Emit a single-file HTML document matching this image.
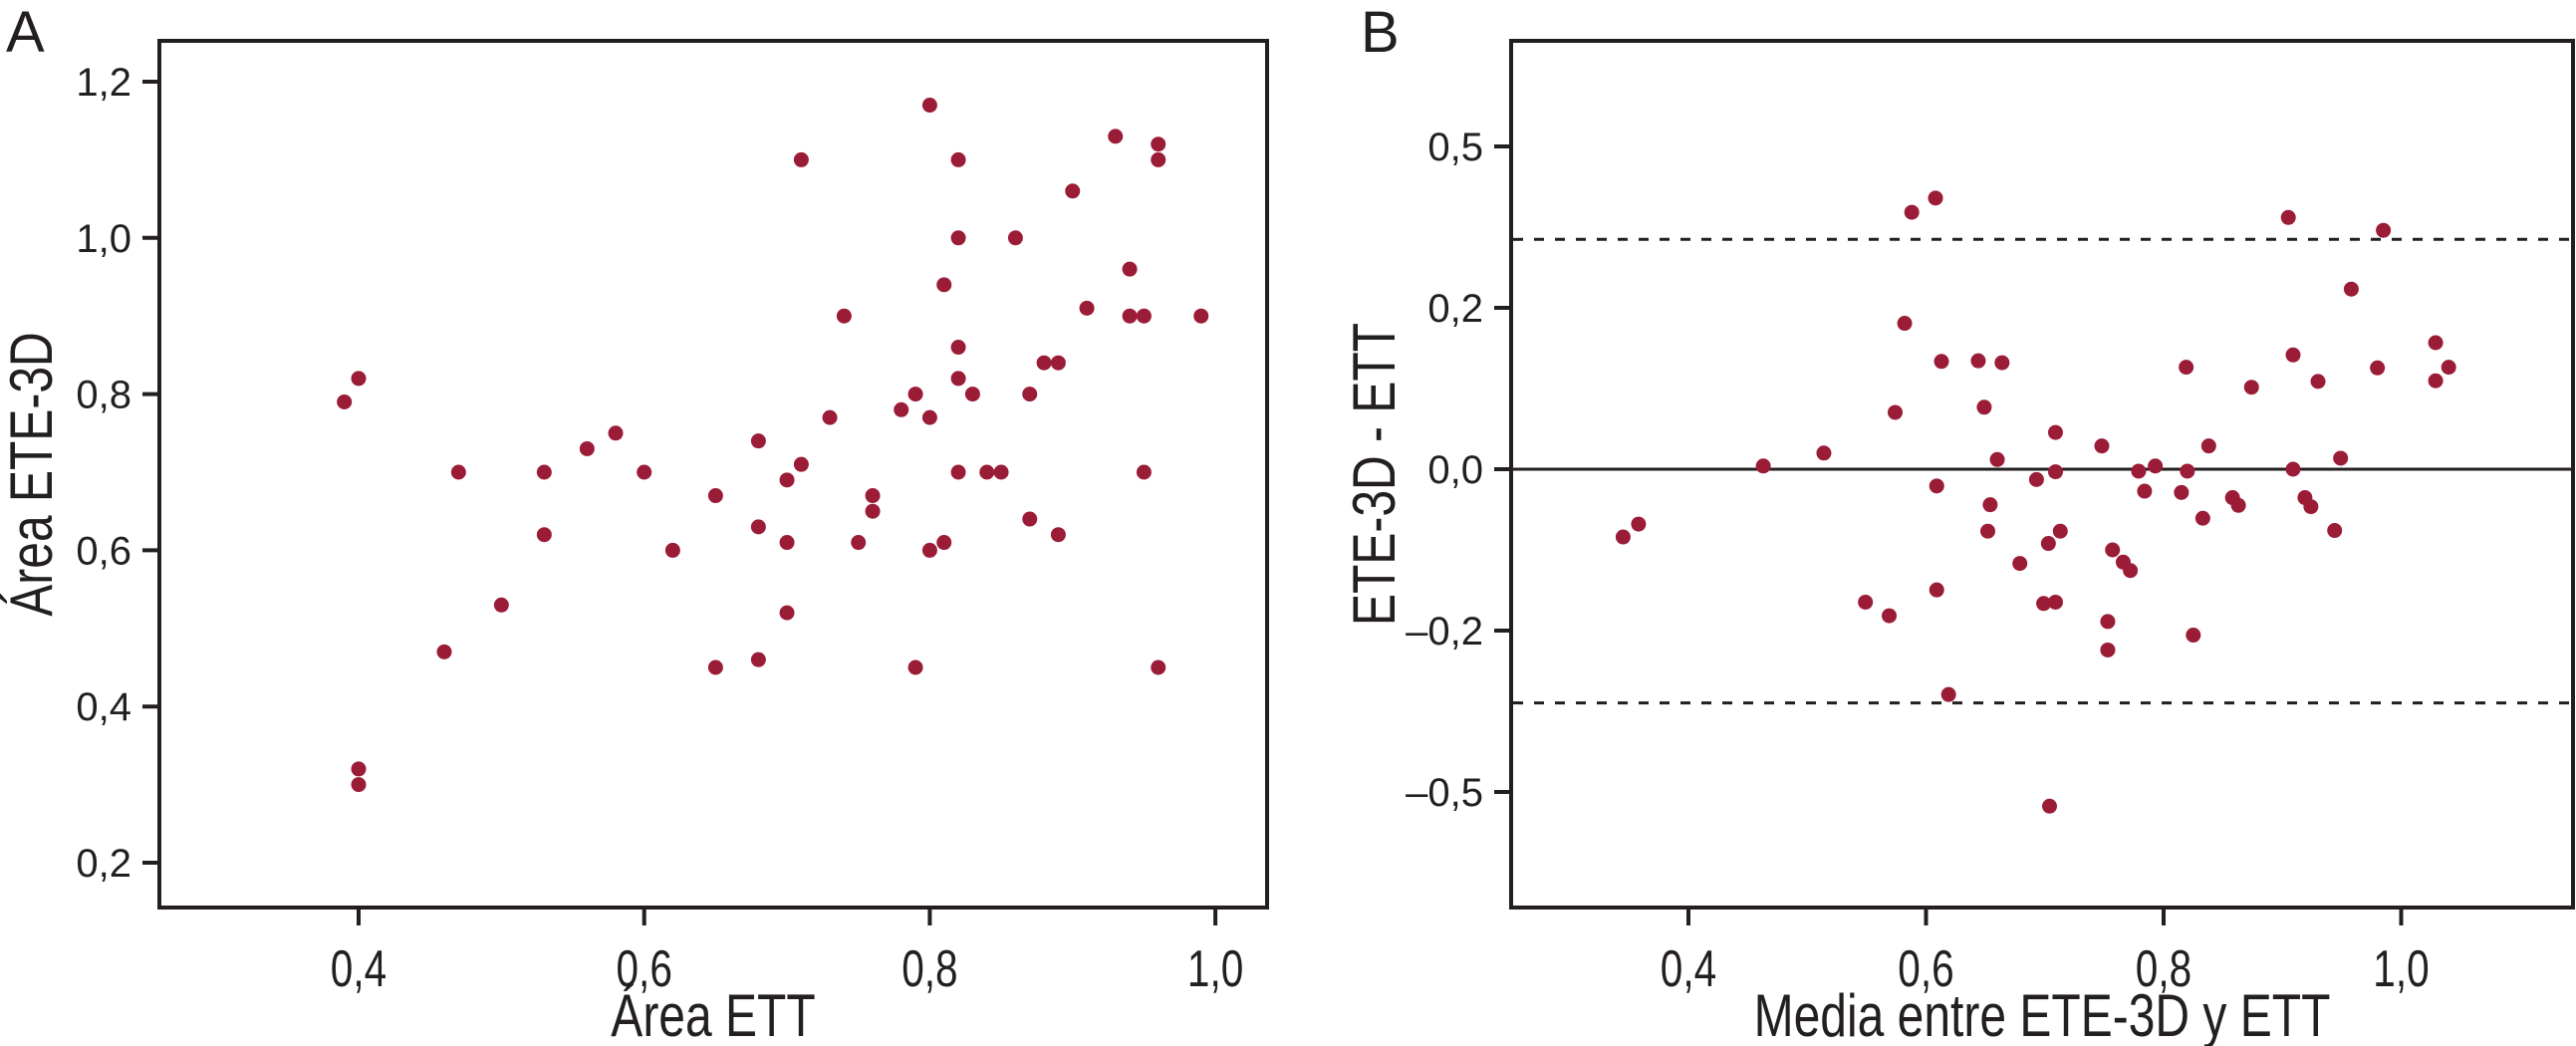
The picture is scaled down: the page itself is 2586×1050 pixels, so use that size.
<!DOCTYPE html>
<html><head><meta charset="utf-8"><style>
html,body{margin:0;padding:0;background:#fff;}
svg{display:block;}
.tk{font-family:"Liberation Sans",sans-serif;fill:#231f20;}
</style></head><body>
<svg id="chart" width="2586" height="1050" viewBox="0 0 2586 1050" xmlns="http://www.w3.org/2000/svg"></svg>
<script>
// Panel A data
const aX = [0.39,0.40,0.40,0.40,0.46,0.47,0.50,0.53,0.53,0.56,0.58,0.60,0.62,0.65,0.65,0.68,0.68,0.68,0.70,0.70,0.70,0.71,0.71,0.73,0.74,0.75,0.76,0.76,0.78,0.79,0.79,0.80,0.80,0.80,0.81,0.81,0.82,0.82,0.82,0.82,0.82,0.83,0.84,0.85,0.86,0.87,0.87,0.88,0.89,0.89,0.90,0.91,0.93,0.94,0.94,0.95,0.95,0.96,0.96,0.96,0.99];
const aY = [0.79,0.82,0.32,0.30,0.47,0.70,0.53,0.70,0.62,0.73,0.75,0.70,0.60,0.67,0.45,0.74,0.63,0.46,0.69,0.61,0.52,1.10,0.71,0.77,0.90,0.61,0.67,0.65,0.78,0.80,0.45,1.17,0.77,0.60,0.94,0.61,1.10,1.00,0.86,0.82,0.70,0.80,0.70,0.70,1.00,0.80,0.64,0.84,0.84,0.62,1.06,0.91,1.13,0.96,0.90,0.90,0.70,1.12,1.10,0.45,0.90];
const aXTicks = [0.4,0.6,0.8,1.0];
const aXTickLabels = ["0,4","0,6","0,8","1,0"];
const aYTicks = [0.2,0.4,0.6,0.8,1.0,1.2];
const aYTickLabels = ["0,2","0,4","0,6","0,8","1,0","1,2"];
// Panel B data
const bX = [0.345,0.358,0.463,0.514,0.549,0.569,0.574,0.582,0.588,0.608,0.613,0.609,0.609,0.619,0.644,0.664,0.649,0.660,0.654,0.652,0.679,0.693,0.709,0.709,0.703,0.713,0.699,0.709,0.704,0.748,0.757,0.766,0.772,0.753,0.753,0.779,0.793,0.784,0.819,0.820,0.815,0.825,0.833,0.838,0.858,0.863,0.874,0.905,0.909,0.909,0.919,0.924,0.930,0.944,0.949,0.958,0.980,0.985,1.029,1.029,1.040];
const bY = [-0.105,-0.085,0.005,0.025,-0.206,-0.227,0.088,0.226,0.398,0.420,0.167,-0.026,-0.187,-0.349,0.168,0.165,0.096,0.015,-0.055,-0.096,-0.146,-0.016,0.057,-0.004,-0.115,-0.096,-0.208,-0.206,-0.522,0.036,-0.125,-0.144,-0.157,-0.236,-0.280,-0.003,0.005,-0.034,0.158,-0.003,-0.036,-0.257,-0.076,0.036,-0.044,-0.056,0.127,0.390,0.177,0,-0.044,-0.058,0.136,-0.095,0.017,0.279,0.157,0.370,0.137,0.196,0.158];
const bXTicks = [0.4,0.6,0.8,1.0];
const bXTickLabels = ["0,4","0,6","0,8","1,0"];
const bYTicks = [0.5,0.25,0,-0.25,-0.5];
const bYTickLabels = ["0,5","0,2","0,0","\u20130,2","\u20130,5"];
const bMean = [0];
const bLimits = [0.356,-0.362];

const NS="http://www.w3.org/2000/svg";
const svg=document.getElementById('chart');
function mk(tag,attrs,parent){const e=document.createElementNS(NS,tag);for(const k in attrs)e.setAttribute(k,attrs[k]);(parent||svg).appendChild(e);return e;}

const axA=v=>360+(v-0.4)/0.2*286.7;
const ayA=v=>866-(v-0.2)/0.1*78.4;
const axB=v=>1695+(v-0.4)/0.2*238.5;
const ayB=v=>471-v*648;

function panel(name,box,xs,ys,xT,xTL,yT,yTL,xTitle,yTitle,letter,letterX,yTitleX){
  const g=mk('g',{});
  
  
  const frame=mk('rect',{x:box[0],y:box[1],width:box[2]-box[0],height:box[3]-box[1],fill:'none',stroke:'#231f20','stroke-width':4},g);
  
  
  xT.forEach((t,i)=>{
    const x=xs(t);
    const l=mk('line',{x1:x,x2:x,y1:box[3],y2:box[3]+18,stroke:'#231f20','stroke-width':4},g);
    
    
    const tx=mk('text',{x:x,y:box[3]+79,'text-anchor':'middle','font-size':52,class:'tk',transform:`translate(${x},0) scale(0.78,1) translate(${-x},0)`},g);
    tx.textContent=xTL[i];
    
    
  });
  yT.forEach((t,i)=>{
    const y=ys(t);
    const l=mk('line',{x1:box[0]-17,x2:box[0],y1:y,y2:y,stroke:'#231f20','stroke-width':4},g);
    
    
    const tx=mk('text',{x:box[0]-28,y:y+14,'text-anchor':'end','font-size':40,class:'tk'},g);
    tx.textContent=yTL[i];
    
    
  });
  const cx=(box[0]+box[2])/2;
  const xt=mk('text',{x:cx,y:1040,'text-anchor':'middle','font-size':60,class:'tk',transform:`translate(${cx},0) scale(0.8,1) translate(${-cx},0)`},g);
  xt.textContent=xTitle;
  
  
  const cy=(box[1]+box[3])/2;
  const yt=mk('text',{x:0,y:0,'text-anchor':'middle','font-size':60,class:'tk',transform:`translate(${yTitleX},${cy}) rotate(-90) scale(0.8,1)`},g);
  yt.textContent=yTitle;
  
  
  const lt=mk('text',{x:letterX,y:52,'font-size':58,class:'tk'},g);
  lt.textContent=letter;
  
  
  return g;
}

const gA=panel('panel-a-scatter',[160,41,1272,911],axA,ayA,aXTicks,aXTickLabels,aYTicks,aYTickLabels,'Área ETT','Área ETE-3D','A',6,52);
aX.forEach((v,i)=>{
  const c=mk('circle',{cx:axA(v),cy:ayA(aY[i]),r:7.5,fill:'#9b1c37'},gA);
  
  
});

const gB=panel('panel-b-bland-altman',[1517,41,2583,911],axB,ayB,bXTicks,bXTickLabels,bYTicks,bYTickLabels,'Media entre ETE-3D y ETT','ETE-3D - ETT','B',1366,1400);
bMean.forEach(v=>{
  const l=mk('line',{x1:1517,x2:2583,y1:ayB(v),y2:ayB(v),stroke:'#231f20','stroke-width':3},gB);
  
  
});
bLimits.forEach(v=>{
  const l=mk('line',{x1:1519,x2:2583,y1:ayB(v),y2:ayB(v),stroke:'#231f20','stroke-width':3,'stroke-dasharray':'10 11'},gB);
  
  
});
bX.forEach((v,i)=>{
  const c=mk('circle',{cx:axB(v),cy:ayB(bY[i]),r:7.5,fill:'#9b1c37'},gB);
  
  
});
</script>
</body></html>
